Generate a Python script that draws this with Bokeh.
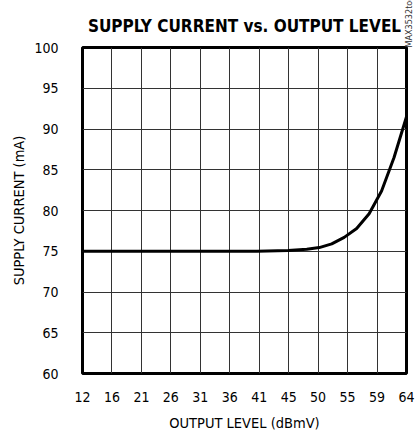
import math
from bokeh.plotting import figure
from bokeh.models import FixedTicker, LinearAxis, Range1d
from bokeh.embed import file_html
from bokeh.resources import INLINE

# data
x_tick_labels = ["12", "16", "21", "26", "31", "36", "41", "45", "50", "55", "59", "64"]
x_min, x_max = 12, 64
y_ticks = [60, 65, 70, 75, 80, 85, 90, 95, 100]
output_level = [12, 20, 30, 40, 45, 48, 50, 52, 54, 56, 58, 60, 62, 64]
supply_current = [75.0, 75.0, 75.0, 75.0, 75.1, 75.25, 75.45, 75.9, 76.7, 77.8, 79.6, 82.4, 86.5, 91.5]

FONT = "'DejaVu Sans Condensed', 'Roboto', sans-serif"

p = figure(frame_width=324, frame_height=326, output_backend="svg", toolbar_location=None,
           x_range=Range1d(x_min, x_max), y_range=Range1d(60, 100),
           min_border_left=82, min_border_right=14, min_border_top=47, min_border_bottom=56,
           title="SUPPLY CURRENT vs. OUTPUT LEVEL")

n = len(x_tick_labels)
x_tick_pos = [x_min + i * (x_max - x_min) / (n - 1) for i in range(n)]
p.xaxis.ticker = FixedTicker(ticks=x_tick_pos)
p.xaxis.major_label_overrides = {t: lab for t, lab in zip(x_tick_pos, x_tick_labels)}
p.yaxis.ticker = FixedTicker(ticks=y_ticks)

p.title.text_font = FONT
p.title.text_font_size = "17px"
p.title.text_font_style = "bold"
p.title.align = "center"
p.title.text_color = "black"
p.title.offset = 0
p.title.standoff = 23

for ax in (p.xaxis, p.yaxis):
    ax.axis_line_color = None
    ax.major_tick_line_color = None
    ax.minor_tick_line_color = None
    ax.major_label_text_font = FONT
    ax.major_label_text_font_size = "14px"
    ax.major_label_text_color = "black"
    ax.axis_label_text_font = FONT
    ax.axis_label_text_font_size = "14.5px"
    ax.axis_label_text_font_style = "normal"
    ax.axis_label_text_color = "black"

p.xaxis.axis_label = "OUTPUT LEVEL (dBmV)"
p.yaxis.axis_label = "SUPPLY CURRENT (mA)"
p.xaxis.major_label_standoff = 12
p.yaxis.major_label_standoff = 18
p.xaxis.axis_label_standoff = 10
p.yaxis.axis_label_standoff = 4

p.grid.grid_line_color = "#333333"
p.grid.grid_line_width = 1
p.grid.grid_line_alpha = 1.0

p.outline_line_color = "black"
p.outline_line_width = 3
p.background_fill_color = "white"
p.border_fill_color = "white"

p.line(output_level, supply_current, line_color="black", line_width=3)

tag_axis = LinearAxis(ticker=FixedTicker(ticks=[]), axis_label="MAX3532toc03",
                      axis_line_color=None, major_tick_line_color=None,
                      minor_tick_line_color=None, axis_label_standoff=2,
                      axis_label_text_font=FONT, axis_label_text_font_size="9px",
                      axis_label_text_color="#333333", axis_label_text_font_style="normal",
                      axis_label_orientation=math.pi / 2, axis_label_align="end")
p.add_layout(tag_axis, "right")

open("out.html", "w").write(file_html(p, INLINE))
